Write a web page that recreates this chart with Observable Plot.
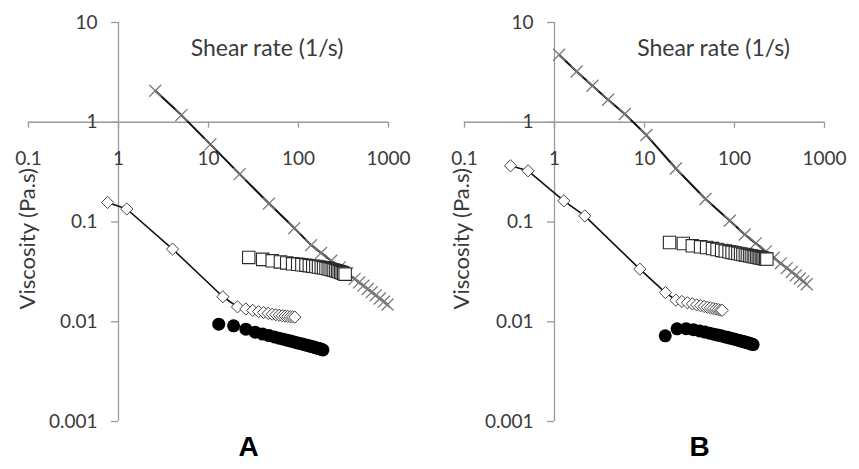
<!DOCTYPE html>
<html><head><meta charset="utf-8">
<script src="https://cdn.jsdelivr.net/npm/d3@7"></script>
<script src="https://cdn.jsdelivr.net/npm/@observablehq/plot@0.6"></script>
<style>html,body{margin:0;padding:0;background:#fff;} #chart{width:859px;height:469px;}</style>
</head><body><div id="chart"></div>
<script>
const panels = ["A", "B"];
const xTicks = [0.1, 1, 10, 100, 1000];
const xTickLabels = ["0.1", "1", "10", "100", "1000"];
const yTicks = [10, 1, 0.1, 0.01, 0.001];
const yTickLabels = ["10", "1", "0.1", "0.01", "0.001"];
const xTitle = "Shear rate (1/s)";
const yTitle = "Viscosity (Pa.s)";

// Panel A
const crossA_x = [2.56, 5.0, 10.5, 22.2, 47, 90, 138, 178, 231, 287, 348, 420, 471, 526, 587, 651, 721, 800, 887, 975];
const crossA_y = [2.07, 1.18, 0.60, 0.302, 0.153, 0.0869, 0.0587, 0.049, 0.0409, 0.0351, 0.0307, 0.0269, 0.0248, 0.0230, 0.0213, 0.0198, 0.0184, 0.0171, 0.0159, 0.0149];
const squareA_x = [28, 40, 51, 63, 74, 86, 98, 109, 121, 132, 144, 156, 167, 179, 190, 202, 214, 225, 237, 248, 260, 272, 283, 295, 306, 318, 330];
const squareA_y = [0.0441, 0.0422, 0.0408, 0.0398, 0.0389, 0.0381, 0.0377, 0.0373, 0.0369, 0.0365, 0.0361, 0.0358, 0.0354, 0.0350, 0.0347, 0.0343, 0.0339, 0.0336, 0.0333, 0.0329, 0.0325, 0.0321, 0.0317, 0.0313, 0.0309, 0.0305, 0.0300];
const diamondA_x = [0.757, 1.235, 3.99, 14.45, 21, 26, 31, 36, 41, 46, 51, 56, 61, 66, 71, 76, 81, 86, 91];
const diamondA_y = [0.157, 0.135, 0.0535, 0.0178, 0.0141, 0.01343, 0.0130, 0.01266, 0.01237, 0.01212, 0.01191, 0.01176, 0.01162, 0.01149, 0.0114, 0.01132, 0.01125, 0.01118, 0.01113];
const circleA_x = [13, 19, 26, 33, 40, 47, 54, 61, 68, 75, 82, 89, 96, 103, 110, 117, 124, 131, 138, 145, 152, 159, 166, 173, 180, 187];
const circleA_y = [0.00946, 0.0091, 0.00843, 0.00787, 0.00753, 0.00726, 0.00705, 0.00685, 0.00668, 0.00654, 0.0064, 0.00628, 0.00617, 0.00607, 0.00599, 0.00589, 0.00581, 0.00574, 0.00566, 0.0056, 0.00553, 0.00547, 0.00541, 0.00535, 0.00529, 0.00522];

// Panel B
const crossB_x = [1.125, 1.76, 2.64, 3.94, 6.04, 10.5, 22.3, 47.6, 88.7, 130, 172, 223, 273, 327, 381, 433, 480, 532, 581, 635];
const crossB_y = [4.75, 3.23, 2.32, 1.68, 1.21, 0.744, 0.344, 0.170, 0.1028, 0.075, 0.0611, 0.0508, 0.0438, 0.0385, 0.0345, 0.0315, 0.0292, 0.0271, 0.0254, 0.0238];
const squareB_x = [19, 27, 34, 42, 49, 57, 64, 72, 79, 87, 94, 102, 109, 117, 124, 132, 139, 147, 154, 162, 169, 177, 184, 192, 199, 207, 214, 222, 229];
const squareB_y = [0.0623, 0.0609, 0.0577, 0.0564, 0.0555, 0.0541, 0.0530, 0.0519, 0.0511, 0.0502, 0.0496, 0.0489, 0.0483, 0.0478, 0.0472, 0.0468, 0.0463, 0.0459, 0.0455, 0.0451, 0.0448, 0.0445, 0.0441, 0.0437, 0.0435, 0.0432, 0.0429, 0.0428, 0.0425];
const diamondB_x = [0.325, 0.509, 1.27, 2.17, 8.87, 17.1, 22.3, 26, 30, 34, 38, 42, 46, 50, 54, 58, 62, 66, 70, 73];
const diamondB_y = [0.366, 0.326, 0.163, 0.115, 0.0337, 0.0196, 0.01647, 0.01596, 0.01551, 0.01511, 0.01476, 0.01447, 0.01423, 0.01399, 0.01378, 0.01358, 0.01341, 0.01326, 0.01311, 0.01302];
const circleB_x = [17, 23, 29, 35, 41, 47, 53, 59, 65, 71, 77, 83, 89, 95, 101, 107, 113, 119, 125, 131, 137, 143, 149, 155, 161];
const circleB_y = [0.00722, 0.00849, 0.00853, 0.00833, 0.0081, 0.00788, 0.00768, 0.00751, 0.00735, 0.00722, 0.00709, 0.00698, 0.00686, 0.00677, 0.00668, 0.00658, 0.00649, 0.0064, 0.00633, 0.00626, 0.00619, 0.00612, 0.00604, 0.00597, 0.0059];

function rows(panel, xs, ys) { return xs.map((x, i) => ({panel, x, y: ys[i]})); }
const crosses = [...rows("A", crossA_x, crossA_y), ...rows("B", crossB_x, crossB_y)];
const squares = [...rows("A", squareA_x, squareA_y), ...rows("B", squareB_x, squareB_y)];
const diamonds = [...rows("A", diamondA_x, diamondA_y), ...rows("B", diamondB_x, diamondB_y)];
const circles = [...rows("A", circleA_x, circleA_y), ...rows("B", circleB_x, circleB_y)];

const axisColor = "#9a9a9a";
const textColor = "#3a3a3a";
const font = "Lato, 'Liberation Sans', sans-serif";

const chart = Plot.plot({
  width: 859, height: 469,
  marginLeft: 28, marginRight: 34, marginTop: 22, marginBottom: 48,
  style: {fontFamily: font, background: "#fff", overflow: "visible"},
  x: {type: "log", domain: [0.1, 1000], axis: null},
  y: {type: "log", domain: [0.001, 10], axis: null},
  fx: {domain: panels, paddingInner: 0.1741, paddingOuter: 0, axis: null, label: null},
  marks: [
    Plot.ruleY([1], {stroke: axisColor, strokeWidth: 1.3}),
    Plot.ruleX([1], {stroke: axisColor, strokeWidth: 1.3}),
    Plot.ruleX(xTicks, {x: d => d, y1: () => 1, y2: () => 1, insetBottom: -6, stroke: axisColor, strokeWidth: 1.3}),
    Plot.ruleY(yTicks, {y: d => d, x1: () => 1, x2: () => 1, insetLeft: -7, stroke: axisColor, strokeWidth: 1.3}),
    Plot.text(xTicks, {x: d => d, y: () => 1, dy: 37, text: (d, i) => xTickLabels[i], fontSize: 19, fill: textColor}),
    Plot.text(yTicks, {x: () => 1, y: d => d, dx: -21, textAnchor: "end", text: (d, i) => yTickLabels[i], fontSize: 19, fill: textColor}),
    Plot.text(["A"], {fx: d => d, frameAnchor: "top", dx: 58.5, dy: 17, text: () => xTitle, fontSize: 23, fill: textColor}),
    Plot.text(["B"], {fx: d => d, frameAnchor: "top", dx: 69, dy: 17, text: () => xTitle, fontSize: 23, fill: textColor}),
    Plot.text(["A"], {fx: d => d, frameAnchor: "bottom-left", dx: 6, dy: -112, rotate: -90, text: () => yTitle, fontSize: 22, fill: textColor}),
    Plot.text(["B"], {fx: d => d, frameAnchor: "bottom-left", dx: 4.5, dy: -112, rotate: -90, text: () => yTitle, fontSize: 22, fill: textColor}),
    Plot.text(["A"], {fx: d => d, frameAnchor: "bottom", dx: 40, dy: 34, text: d => d, fontSize: 28, fontWeight: "bold", fill: "#000", fontFamily: "'Liberation Sans', Arial, sans-serif"}),
    Plot.text(["B"], {fx: d => d, frameAnchor: "bottom", dx: 55, dy: 34, text: d => d, fontSize: 28, fontWeight: "bold", fill: "#000", fontFamily: "'Liberation Sans', Arial, sans-serif"}),
    Plot.line(crosses, {x: "x", y: "y", fx: "panel", stroke: "#111", strokeWidth: 2}),
    Plot.dot(crosses, {x: "x", y: "y", fx: "panel", symbol: "times", r: 5.5, stroke: "#7a7a7a", strokeWidth: 1.3, fill: "none"}),
    Plot.dot(squares, {x: "x", y: "y", fx: "panel", symbol: "square", r: 7, fill: "#fff", stroke: "#2a2a2a", strokeWidth: 1.1}),
    Plot.line(diamonds, {x: "x", y: "y", fx: "panel", stroke: "#111", strokeWidth: 1.6}),
    Plot.dot(diamonds, {x: "x", y: "y", fx: "panel", symbol: "diamond2", r: 5.5, fill: "#fff", stroke: "#444", strokeWidth: 1}),
    Plot.dot(circles, {x: "x", y: "y", fx: "panel", symbol: "circle", r: 6.5, fill: "#000", stroke: "none"})
  ]
});
document.getElementById("chart").appendChild(chart);
</script>
</body></html>
